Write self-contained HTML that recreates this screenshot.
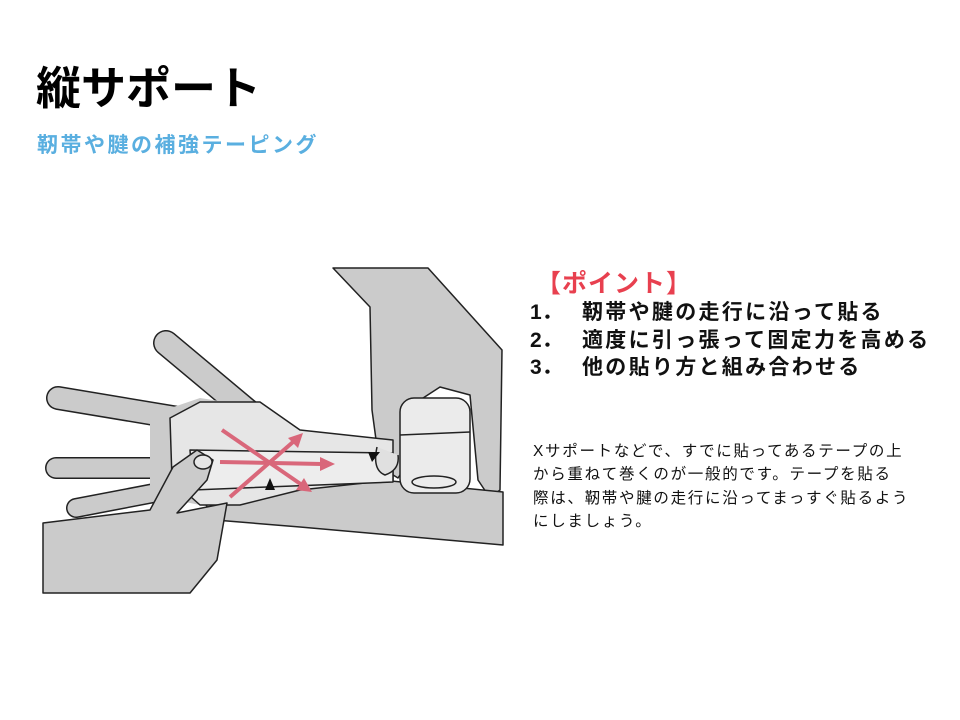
<!DOCTYPE html>
<html><head><meta charset="utf-8">
<style>
body{margin:0;background:#fff;width:960px;height:720px;overflow:hidden;position:relative;font-family:"Liberation Sans","Noto Sans CJK JP",sans-serif;}
.t{position:absolute;white-space:nowrap;}
</style></head><body>
<div class="t" style="left:36px;top:52px;font-size:45px;font-weight:bold;color:#000;">縦サポート</div>
<div class="t" style="left:37px;top:129px;font-size:21px;letter-spacing:2.5px;color:#5aafe0;font-weight:bold;">靭帯や腱の補強テーピング</div>
<div class="t" style="left:536px;top:264px;font-size:25px;font-weight:bold;color:#e8404f;letter-spacing:1px;">【ポイント】</div>
<div class="t" style="left:530px;top:299px;font-size:21px;font-weight:bold;line-height:27.5px;letter-spacing:2.3px;color:#111;">
<div><span style="display:inline-block;width:52px;letter-spacing:0">1．</span>靭帯や腱の走行に沿って貼る</div>
<div><span style="display:inline-block;width:52px;letter-spacing:0">2．</span>適度に引っ張って固定力を高める</div>
<div><span style="display:inline-block;width:52px;letter-spacing:0">3．</span>他の貼り方と組み合わせる</div>
</div>
<div class="t" style="left:533px;top:440px;font-size:15.5px;line-height:23.3px;color:#111;letter-spacing:1.7px;">
Xサポートなどで、すでに貼ってあるテープの上<br>から重ねて巻くのが一般的です。テープを貼る<br>際は、靭帯や腱の走行に沿ってまっすぐ貼るよう<br>にしましょう。</div>
<svg width="960" height="720" style="position:absolute;left:0;top:0" stroke-linejoin="round">
<g stroke="#222" stroke-width="1.5" fill="#cbcbcb">
<polygon points="333,268 428,268 502,350 500,490 490,498 478,480 470,395 440,387 420,400 415,420 410,460 398,478 385,470 377,447 372,410 370,307"/>
<g stroke-linecap="round">
<line x1="166" y1="343" x2="270" y2="430" stroke-width="26"/>
<line x1="58" y1="398" x2="190" y2="420" stroke-width="24"/>
<line x1="56" y1="468" x2="160" y2="468" stroke-width="22"/>
<line x1="76" y1="508" x2="170" y2="490" stroke-width="20"/>
</g>
<g stroke-linecap="round" stroke="#cbcbcb">
<line x1="166" y1="343" x2="270" y2="430" stroke-width="23"/>
<line x1="58" y1="398" x2="190" y2="420" stroke-width="21"/>
<line x1="56" y1="468" x2="160" y2="468" stroke-width="19"/>
<line x1="76" y1="508" x2="170" y2="490" stroke-width="17"/>
</g>
<polygon points="150,415 200,398 245,405 290,440 290,500 200,505 150,495" stroke="none"/>
<polygon points="190,478 280,470 503,492 503,545 300,527 215,520"/>
<polygon points="170,418 200,402 260,402 300,430 393,440 393,480 300,490 240,505 200,505 172,480" fill="#e6e6e6"/>
<polygon points="190,450 393,453 393,482 193,490" fill="#ededed"/>
<rect x="400" y="398" width="70" height="95" rx="14" fill="#ebebeb"/>
<ellipse cx="434" cy="482" rx="22" ry="6" fill="#ebebeb"/>
<line x1="400" y1="435" x2="470" y2="432"/>
<path d="M377,447 Q372,470 385,475 Q400,470 398,455" fill="#e0e0e0"/>
<polygon points="43,523 150,510 173,467 197,450 213,460 207,480 177,513 227,503 217,560 190,593 43,593"/>
<ellipse cx="203" cy="462" rx="9" ry="7" fill="#e6e6e6"/>
</g>
<g stroke="#d9677a" stroke-width="4" fill="#d9677a">
<line x1="220" y1="462" x2="322" y2="464"/><polygon points="335,464 320,457 320,471" stroke="none"/>
<line x1="222" y1="430" x2="302" y2="485"/><polygon points="312,492 296,490 304,478" stroke="none"/>
<line x1="230" y1="497" x2="293" y2="442"/><polygon points="303,433 298,448 288,438" stroke="none"/>
</g>
<polygon points="270,478 275,490 265,490" fill="#111"/>
<polygon points="368,452 380,452 372,462" fill="#111"/>
</svg>
</body></html>
